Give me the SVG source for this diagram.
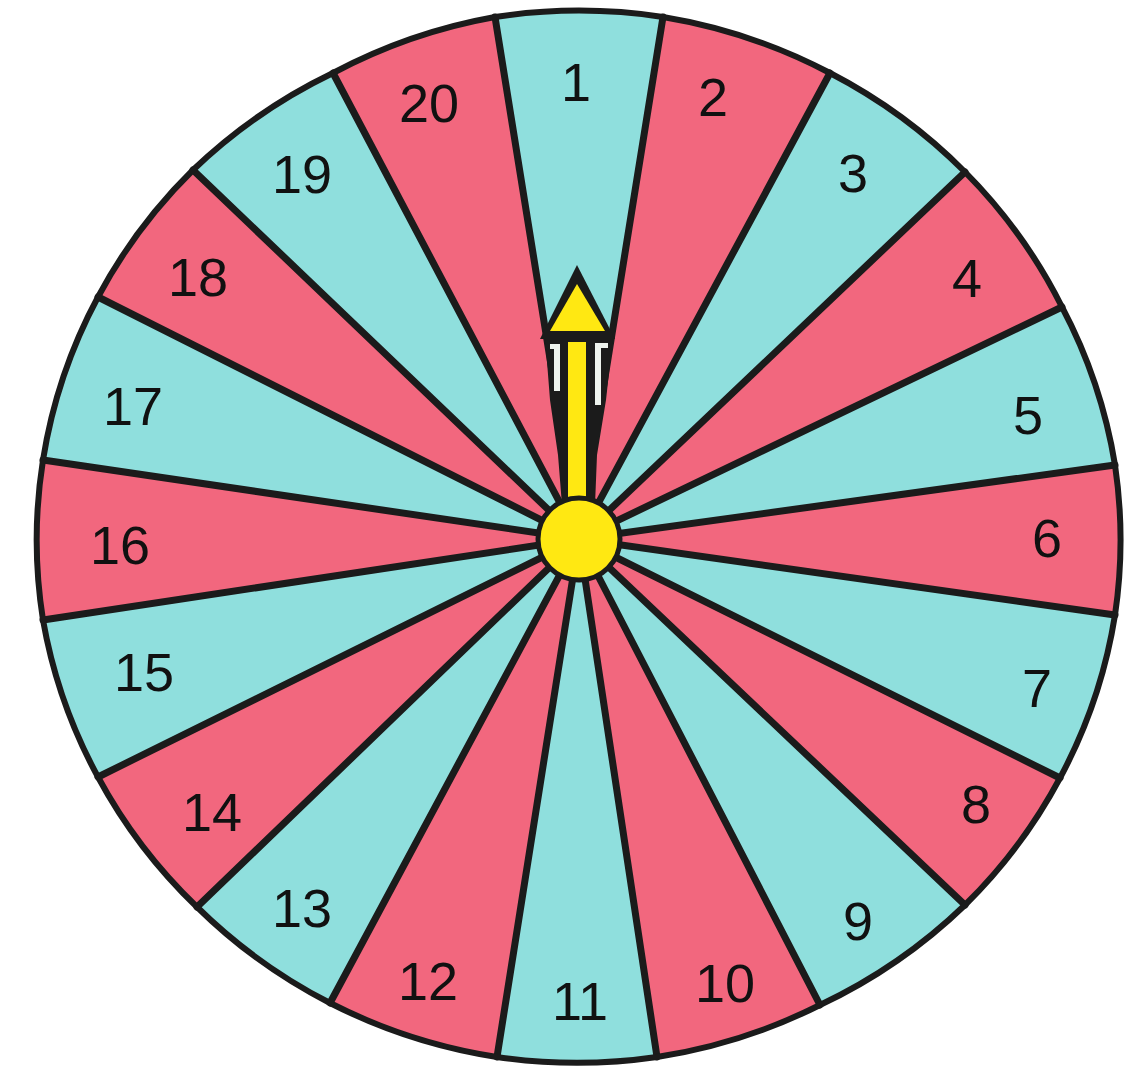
<svg xmlns="http://www.w3.org/2000/svg" width="1145" height="1071" viewBox="0 0 1145 1071">
<style>
.c{fill:#8FDFDD}
.p{fill:#F2677E}
.lbl{font-family:"Liberation Sans",Arial,sans-serif;font-size:54px;fill:#111;text-anchor:middle}
.div{stroke:#1b1b1b;stroke-width:7;stroke-linecap:round}
</style>
<rect width="1145" height="1071" fill="#ffffff"/>
<g id="sector-1"><path class="c" d="M579 539 L495 17 A540 525 0 0 1 663 17 Z"/><text class="lbl" x="576" y="101">1</text></g>
<g id="sector-2"><path class="p" d="M579 539 L663 17 A540 525 0 0 1 830 73 Z"/><text class="lbl" x="713" y="116">2</text></g>
<g id="sector-3"><path class="c" d="M579 539 L830 73 A540 525 0 0 1 965 172 Z"/><text class="lbl" x="853" y="192">3</text></g>
<g id="sector-4"><path class="p" d="M579 539 L965 172 A540 525 0 0 1 1062 307 Z"/><text class="lbl" x="967" y="297">4</text></g>
<g id="sector-5"><path class="c" d="M579 539 L1062 307 A540 525 0 0 1 1115 465 Z"/><text class="lbl" x="1028" y="434">5</text></g>
<g id="sector-6"><path class="p" d="M579 539 L1115 465 A540 525 0 0 1 1115 615 Z"/><text class="lbl" x="1047" y="557">6</text></g>
<g id="sector-7"><path class="c" d="M579 539 L1115 615 A540 525 0 0 1 1060 778 Z"/><text class="lbl" x="1037" y="707">7</text></g>
<g id="sector-8"><path class="p" d="M579 539 L1060 778 A540 525 0 0 1 965 905 Z"/><text class="lbl" x="976" y="823">8</text></g>
<g id="sector-9"><path class="c" d="M579 539 L965 905 A540 525 0 0 1 820 1005 Z"/><text class="lbl" x="858" y="940">9</text></g>
<g id="sector-10"><path class="p" d="M579 539 L820 1005 A540 525 0 0 1 657 1057 Z"/><text class="lbl" x="725" y="1002">10</text></g>
<g id="sector-11"><path class="c" d="M579 539 L657 1057 A540 525 0 0 1 497 1057 Z"/><text class="lbl" x="580" y="1020">11</text></g>
<g id="sector-12"><path class="p" d="M579 539 L497 1057 A540 525 0 0 1 330 1003 Z"/><text class="lbl" x="428" y="1000">12</text></g>
<g id="sector-13"><path class="c" d="M579 539 L330 1003 A540 525 0 0 1 197 907 Z"/><text class="lbl" x="302" y="927">13</text></g>
<g id="sector-14"><path class="p" d="M579 539 L197 907 A540 525 0 0 1 98 777 Z"/><text class="lbl" x="212" y="831">14</text></g>
<g id="sector-15"><path class="c" d="M579 539 L98 777 A540 525 0 0 1 43 620 Z"/><text class="lbl" x="144" y="691">15</text></g>
<g id="sector-16"><path class="p" d="M579 539 L43 620 A540 525 0 0 1 43 460 Z"/><text class="lbl" x="120" y="564">16</text></g>
<g id="sector-17"><path class="c" d="M579 539 L43 460 A540 525 0 0 1 98 297 Z"/><text class="lbl" x="133" y="425">17</text></g>
<g id="sector-18"><path class="p" d="M579 539 L98 297 A540 525 0 0 1 193 170 Z"/><text class="lbl" x="198" y="296">18</text></g>
<g id="sector-19"><path class="c" d="M579 539 L193 170 A540 525 0 0 1 333 73 Z"/><text class="lbl" x="302" y="193">19</text></g>
<g id="sector-20"><path class="p" d="M579 539 L333 73 A540 525 0 0 1 495 17 Z"/><text class="lbl" x="429" y="122">20</text></g>
<g id="dividers" class="div">
<line x1="579" y1="539" x2="495" y2="17"/>
<line x1="579" y1="539" x2="663" y2="17"/>
<line x1="579" y1="539" x2="830" y2="73"/>
<line x1="579" y1="539" x2="965" y2="172"/>
<line x1="579" y1="539" x2="1062" y2="307"/>
<line x1="579" y1="539" x2="1115" y2="465"/>
<line x1="579" y1="539" x2="1115" y2="615"/>
<line x1="579" y1="539" x2="1060" y2="778"/>
<line x1="579" y1="539" x2="965" y2="905"/>
<line x1="579" y1="539" x2="820" y2="1005"/>
<line x1="579" y1="539" x2="657" y2="1057"/>
<line x1="579" y1="539" x2="497" y2="1057"/>
<line x1="579" y1="539" x2="330" y2="1003"/>
<line x1="579" y1="539" x2="197" y2="907"/>
<line x1="579" y1="539" x2="98" y2="777"/>
<line x1="579" y1="539" x2="43" y2="620"/>
<line x1="579" y1="539" x2="43" y2="460"/>
<line x1="579" y1="539" x2="98" y2="297"/>
<line x1="579" y1="539" x2="193" y2="170"/>
<line x1="579" y1="539" x2="333" y2="73"/>
</g>
<path id="rim" fill="none" stroke="#1b1b1b" stroke-width="6" stroke-linejoin="round" d="M495 17 A540 525 0 0 1 663 17 A540 525 0 0 1 830 73 A540 525 0 0 1 965 172 A540 525 0 0 1 1062 307 A540 525 0 0 1 1115 465 A540 525 0 0 1 1115 615 A540 525 0 0 1 1060 778 A540 525 0 0 1 965 905 A540 525 0 0 1 820 1005 A540 525 0 0 1 657 1057 A540 525 0 0 1 497 1057 A540 525 0 0 1 330 1003 A540 525 0 0 1 197 907 A540 525 0 0 1 98 777 A540 525 0 0 1 43 620 A540 525 0 0 1 43 460 A540 525 0 0 1 98 297 A540 525 0 0 1 193 170 A540 525 0 0 1 333 73 A540 525 0 0 1 495 17 Z"/>
<g id="pointer">
<polygon points="545,336 613,336 606,400 597,455 595,505 562,505 558,455 550,400" fill="#1b1b1b"/>
<polygon points="577,265 615,339 540,339" fill="#1b1b1b"/>
<polygon points="577,284 605,331 550,331" fill="#FFE812"/>
<rect x="568" y="342" width="18" height="155" fill="#FFE812"/>
<path d="M550 344 H560 V391 H554 V349 H550 Z" fill="#eef3ee"/>
<path d="M595 343 H608 V348 H601 V405 H595 Z" fill="#eef3ee"/>
</g>
<g id="hub">
<circle cx="579" cy="539" r="41" fill="#FFE812" stroke="#1b1b1b" stroke-width="5"/>
</g>
</svg>
